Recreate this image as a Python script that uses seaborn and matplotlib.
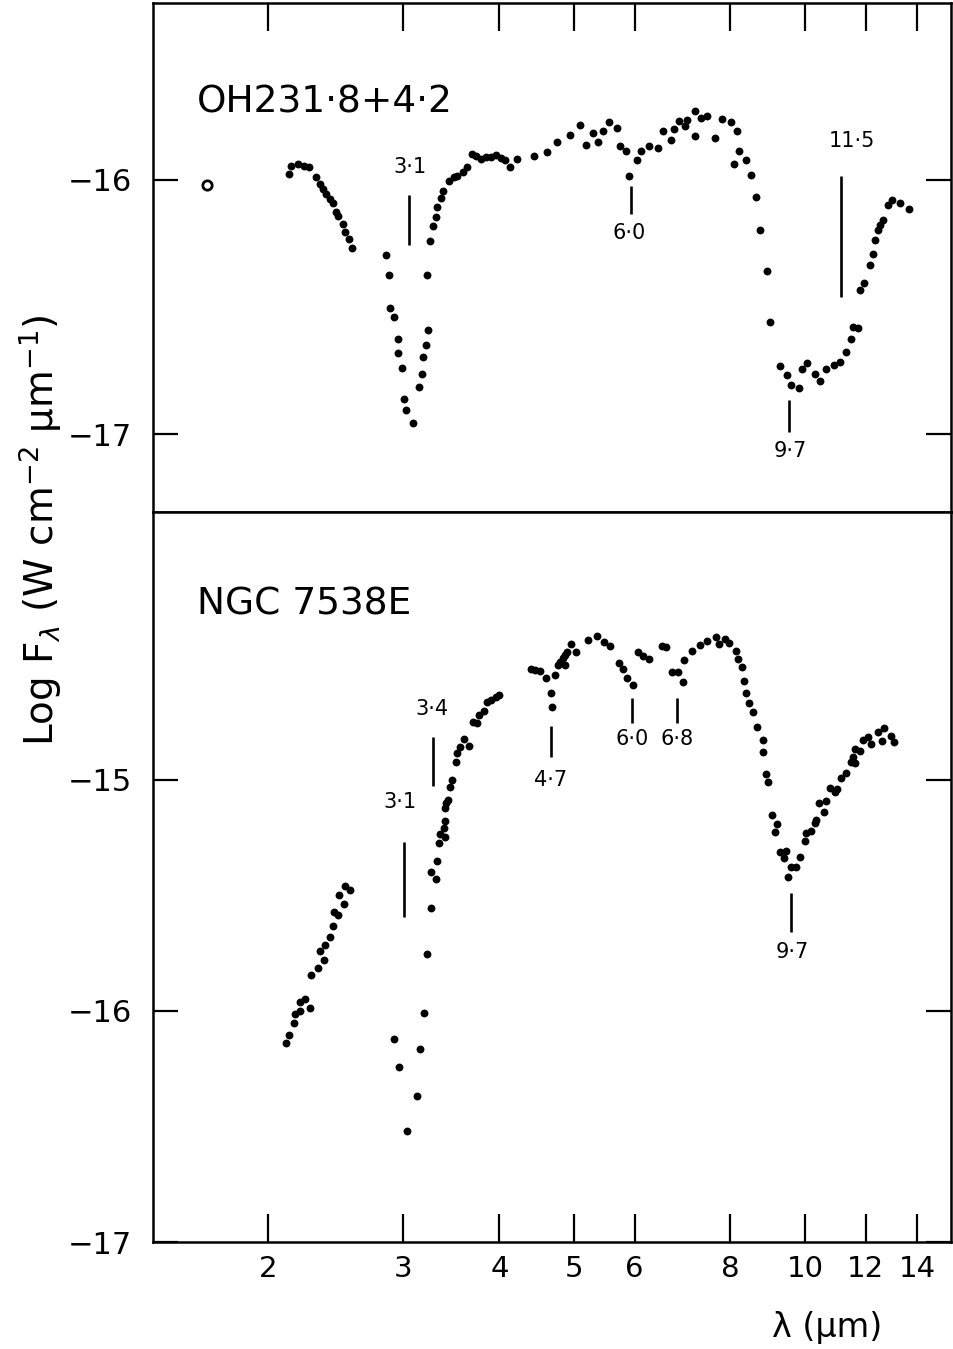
import matplotlib
matplotlib.use("Agg")
import matplotlib.pyplot as plt
import seaborn as sns
import pandas as pd
from matplotlib.ticker import NullLocator

# ---------------- data ----------------
# Upper panel: OH231.8+4.2
top_wl = [2.128, 2.142, 2.186, 2.228, 2.262, 2.309, 2.337, 2.356, 2.379, 2.408,
          2.427, 2.451, 2.464, 2.501, 2.518, 2.548, 2.569,
          2.846, 2.872, 2.883, 2.918, 2.948, 2.953, 2.986, 3.007, 3.025, 3.086,
          3.145, 3.168, 3.177, 3.211, 3.225, 3.221, 3.247, 3.283, 3.306, 3.322,
          3.355, 3.382, 3.439, 3.491, 3.527, 3.591, 3.627, 3.689, 3.726, 3.782,
          3.839, 3.897, 3.956, 4.015, 4.064, 4.129, 4.212, 4.436, 4.617, 4.757,
          4.950, 5.089, 5.192, 5.297, 5.377, 5.451, 5.557, 5.701, 5.747, 5.851,
          5.909, 6.052, 6.114, 6.262, 6.439, 6.530, 6.688, 6.754, 6.850, 6.980,
          7.016, 7.193, 7.199, 7.323, 7.456, 7.636, 7.791, 8.003, 8.083, 8.148,
          8.212, 8.370, 8.496, 8.632, 8.736, 8.913, 9.020, 9.294, 9.490, 9.585,
          9.825, 9.913, 10.063, 10.297, 10.452, 10.664, 10.899, 11.097, 11.298, 11.492,
          11.547, 11.721, 11.781, 11.922, 12.138, 12.258, 12.358, 12.443, 12.532, 12.630,
          12.847, 12.990, 13.316, 13.667]
top_logf = [-15.976, -15.944, -15.937, -15.944, -15.948, -15.988, -16.016, -16.035, -16.055, -16.075,
            -16.090, -16.126, -16.141, -16.173, -16.204, -16.232, -16.267,
            -16.297, -16.372, -16.503, -16.538, -16.625, -16.680, -16.739, -16.861, -16.906, -16.955,
            -16.813, -16.762, -16.698, -16.648, -16.592, -16.372, -16.241, -16.180, -16.145, -16.105,
            -16.071, -16.042, -16.003, -15.989, -15.983, -15.970, -15.950, -15.898, -15.905, -15.917,
            -15.911, -15.911, -15.902, -15.915, -15.924, -15.950, -15.920, -15.907, -15.889, -15.852,
            -15.823, -15.783, -15.862, -15.817, -15.850, -15.810, -15.773, -15.797, -15.869, -15.885,
            -15.983, -15.921, -15.887, -15.868, -15.875, -15.810, -15.843, -15.802, -15.769, -15.787,
            -15.763, -15.728, -15.827, -15.758, -15.750, -15.836, -15.760, -15.773, -15.937, -15.810,
            -15.885, -15.924, -15.980, -16.066, -16.199, -16.358, -16.559, -16.730, -16.766, -16.808,
            -16.816, -16.743, -16.718, -16.763, -16.790, -16.743, -16.726, -16.716, -16.677, -16.625,
            -16.580, -16.583, -16.433, -16.405, -16.334, -16.290, -16.236, -16.199, -16.177, -16.157,
            -16.098, -16.081, -16.090, -16.114]
top_open_wl = [1.666]
top_open_logf = [-16.02]

# Lower panel: NGC 7538E
bot_wl = [2.110, 2.128, 2.160, 2.170, 2.203, 2.201, 2.236, 2.268, 2.277, 2.321,
          2.367, 2.339, 2.374, 2.406, 2.427, 2.439, 2.464, 2.510, 2.471, 2.518, 2.553,
          2.913, 2.957, 3.034, 3.126, 3.151, 3.192, 3.221, 3.263, 3.308, 3.257,
          3.315, 3.335, 3.348, 3.395, 3.390, 3.400, 3.402, 3.405, 3.433, 3.447,
          3.467, 3.516, 3.519, 3.554, 3.597, 3.651, 3.700, 3.737, 3.762, 3.819,
          3.858, 3.897, 3.956, 3.999,
          4.401, 4.458, 4.525, 4.603, 4.676, 4.680, 4.732, 4.771, 4.803, 4.842,
          4.876, 4.866, 4.901, 4.960, 5.035, 5.218, 5.361, 5.467, 5.566, 5.735,
          5.804, 5.864, 5.980, 6.070, 6.162, 6.273, 6.511, 6.601, 6.708, 6.836,
          6.945, 6.950, 7.135, 7.302, 7.450, 7.659, 7.735, 7.868, 7.970, 8.124,
          8.180, 8.286, 8.336, 8.378, 8.461, 8.563, 8.666, 8.807, 8.823, 8.895,
          8.956, 9.056, 9.211, 9.129, 9.275, 9.442, 9.385, 9.507, 9.605, 9.747,
          9.846, 9.994, 10.045, 10.196, 10.297, 10.350, 10.421, 10.578, 10.664, 10.770,
          10.932, 11.008, 11.130, 11.321, 11.492, 11.606, 11.547, 11.630, 11.781, 11.897,
          12.076, 12.199, 12.443, 12.593, 12.695, 12.952, 13.081]
bot_logf = [-16.140, -16.105, -16.053, -16.013, -15.999, -15.962, -15.947, -15.988, -15.845, -15.815,
            -15.781, -15.740, -15.714, -15.680, -15.633, -15.570, -15.586, -15.537, -15.498, -15.458, -15.476,
            -16.123, -16.241, -16.518, -16.368, -16.163, -16.010, -15.755, -15.553, -15.429, -15.400,
            -15.351, -15.274, -15.235, -15.245, -15.206, -15.177, -15.120, -15.101, -15.087, -15.029,
            -15.000, -14.923, -14.884, -14.856, -14.824, -14.852, -14.748, -14.755, -14.719, -14.701,
            -14.661, -14.654, -14.639, -14.632,
            -14.521, -14.524, -14.528, -14.560, -14.625, -14.684, -14.545, -14.502, -14.488, -14.473,
            -14.459, -14.502, -14.445, -14.411, -14.445, -14.394, -14.377, -14.401, -14.420, -14.492,
            -14.521, -14.557, -14.589, -14.447, -14.463, -14.477, -14.419, -14.426, -14.532, -14.534,
            -14.574, -14.481, -14.440, -14.416, -14.397, -14.382, -14.413, -14.391, -14.408, -14.442,
            -14.477, -14.510, -14.571, -14.625, -14.668, -14.704, -14.769, -14.827, -14.879, -14.974,
            -15.007, -15.152, -15.190, -15.224, -15.310, -15.306, -15.336, -15.419, -15.375, -15.375,
            -15.332, -15.263, -15.231, -15.219, -15.185, -15.173, -15.101, -15.137, -15.090, -15.036,
            -15.051, -15.040, -14.993, -14.968, -14.923, -14.928, -14.899, -14.866, -14.873, -14.827,
            -14.815, -14.844, -14.794, -14.831, -14.774, -14.810, -14.834]

# Tick values / labels
x_ticks = [2, 3, 4, 5, 6, 8, 10, 12, 14]
x_tick_labels = ["2", "3", "4", "5", "6", "8", "10", "12", "14"]
top_y_ticks = [-16, -17]
bot_y_ticks = [-15, -16, -17]

# Feature markers (label, wavelength)
top_feat_labels = ["3·1", "6·0", "9·7", "11·5"]
top_feat_wl = [3.05, 5.94, 9.54, 11.14]
bot_feat_labels = ["3·1", "3·4", "4·7", "6·0", "6·8", "9·7"]
bot_feat_wl = [3.007, 3.281, 4.676, 5.95, 6.81, 9.58]

# ---------------- layout / style ----------------
top_feat_seg = [(-16.060, -16.258), (-16.025, -16.134), (-16.867, -16.991), (-15.983, -16.461)]
top_feat_text = [(3.06, -15.95), (5.91, -16.208), (9.56, -17.064), (11.53, -15.848)]
bot_feat_seg = [(-15.270, -15.594), (-14.813, -15.026), (-14.766, -14.899),
                (-14.645, -14.752), (-14.646, -14.755), (-15.490, -15.657)]
bot_feat_text = [(2.968, -15.094), (3.27, -14.694), (4.66, -15.0),
                 (5.95, -14.824), (6.82, -14.824), (9.62, -15.743)]

sns.set_style("ticks")
plt.rcParams['font.family'] = ['DejaVu Sans']
plt.rcParams['text.color'] = 'black'
plt.rcParams['axes.labelcolor'] = 'black'
plt.rcParams['xtick.color'] = 'black'
plt.rcParams['ytick.color'] = 'black'
plt.rcParams['axes.edgecolor'] = 'black'

fig = plt.figure(figsize=(9.54, 13.49), dpi=100)
ax1 = fig.add_axes([0.1604, 0.6205, 0.8365, 0.3773])
ax2 = fig.add_axes([0.1604, 0.0793, 0.8365, 0.5412])

top_df = pd.DataFrame({"wl": top_wl, "logf": top_logf})
bot_df = pd.DataFrame({"wl": bot_wl, "logf": bot_logf})
open_df = pd.DataFrame({"wl": top_open_wl, "logf": top_open_logf})

sns.scatterplot(data=top_df, x="wl", y="logf", ax=ax1, color="black", s=32,
                linewidth=0, legend=False, zorder=3)
sns.scatterplot(data=open_df, x="wl", y="logf", ax=ax1, color="white",
                edgecolor="black", s=45, linewidth=2.0, legend=False, zorder=3)
sns.scatterplot(data=bot_df, x="wl", y="logf", ax=ax2, color="black", s=32,
                linewidth=0, legend=False, zorder=3)

for ax, yt, ylim in ((ax1, top_y_ticks, (-17.305, -15.305)),
                     (ax2, bot_y_ticks, (-17.0, -13.84))):
    ax.set_xscale("log")
    ax.set_xlim(1.416, 15.5)
    ax.set_ylim(*ylim)
    ax.set_xticks(x_ticks)
    ax.set_xticklabels(x_tick_labels)
    ax.xaxis.set_minor_locator(NullLocator())
    ax.set_yticks(yt)
    ax.set_yticklabels([f"\u2212{abs(v)}" for v in yt])
    ax.set_xlabel("")
    ax.set_ylabel("")
    for sp in ax.spines.values():
        sp.set_visible(True)
        sp.set_linewidth(1.8)
        sp.set_color("black")
    ax.tick_params(axis="y", which="major", direction="in", left=True, right=True,
                   length=18, width=1.6, labelsize=22, pad=15, colors="black")
    ax.grid(False)

ax1.tick_params(axis="x", which="major", direction="in", top=True, bottom=False,
                labelbottom=False, labeltop=False, length=20, width=1.6)
ax2.tick_params(axis="x", which="major", direction="in", top=False, bottom=True,
                labelbottom=True, length=20, width=1.6, labelsize=21, pad=9,
                colors="black")

# feature markers
for ax, labs, wls, segs, txts in ((ax1, top_feat_labels, top_feat_wl, top_feat_seg, top_feat_text),
                                  (ax2, bot_feat_labels, bot_feat_wl, bot_feat_seg, bot_feat_text)):
    for lab, wl, (y0, y1), (tx, ty) in zip(labs, wls, segs, txts):
        ax.plot([wl, wl], [y0, y1], color="black", lw=1.9, solid_capstyle="butt")
        ax.text(tx, ty, lab, fontsize=15, ha="center", va="center", color="black")

ax1.text(0.055, 0.804, "OH231·8+4·2", transform=ax1.transAxes, fontsize=27,
         ha="left", va="center", color="black")
ax2.text(0.055, 0.873, "NGC 7538E", transform=ax2.transAxes, fontsize=27,
         ha="left", va="center", color="black")

fig.text(827 / 954, 1 - 1327 / 1349, "λ (µm)", fontsize=24, ha="center", va="center",
         color="black")
fig.text(40 / 954, 1 - 530 / 1349, r"Log F$_\lambda$ (W cm$^{-2}$ µm$^{-1}$)",
         fontsize=28, rotation=90, ha="center", va="center", color="black")

fig.savefig("out.png", dpi=100)
